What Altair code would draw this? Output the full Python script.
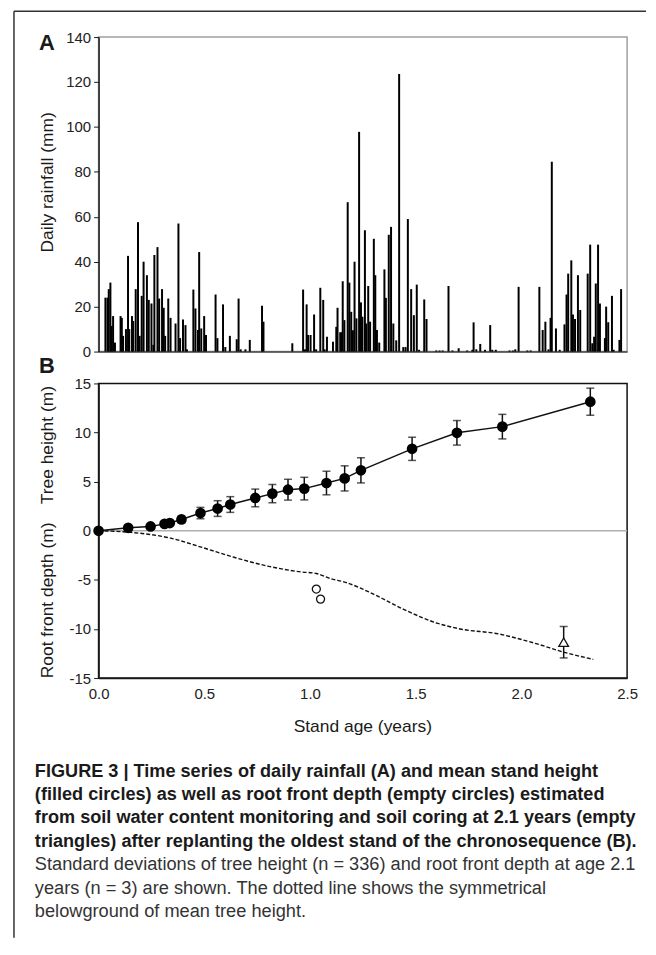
import altair as alt
import pandas as pd

# ---------------- data ----------------
rain_age = [0.009, 0.019, 0.025, 0.033, 0.039, 0.046, 0.055, 0.082, 0.088, 0.094,
            0.108, 0.118, 0.124, 0.137, 0.143, 0.155, 0.166, 0.174, 0.184, 0.193,
            0.209, 0.218, 0.231, 0.240, 0.245, 0.260, 0.268, 0.282, 0.290, 0.297,
            0.312, 0.323, 0.347, 0.361, 0.369, 0.383, 0.395, 0.402, 0.433, 0.443,
            0.455, 0.461, 0.471, 0.485, 0.494, 0.540, 0.549, 0.576, 0.587, 0.609,
            0.642, 0.651, 0.661, 0.684, 0.705, 0.764, 0.771, 0.910, 0.962, 0.971,
            0.979, 0.986, 0.998, 1.015, 1.025, 1.045, 1.059, 1.066, 1.077, 1.106,
            1.122, 1.128, 1.141, 1.147, 1.153, 1.161, 1.177, 1.185, 1.194, 1.202,
            1.210, 1.219, 1.232, 1.241, 1.248, 1.260, 1.266, 1.276, 1.285, 1.303,
            1.310, 1.318, 1.329, 1.354, 1.361, 1.375, 1.386, 1.397, 1.411, 1.425,
            1.445, 1.456, 1.467, 1.483, 1.496, 1.510, 1.521, 1.546, 1.557, 1.604,
            1.620, 1.635, 1.663, 1.682, 1.712, 1.753, 1.778, 1.784, 1.797, 1.816,
            1.839, 1.864, 1.874, 1.891, 1.957, 1.973, 1.985, 2.001, 2.043, 2.059,
            2.101, 2.117, 2.130, 2.145, 2.155, 2.161, 2.181, 2.199, 2.222, 2.232,
            2.240, 2.255, 2.263, 2.273, 2.287, 2.298, 2.334, 2.346, 2.356, 2.365,
            2.373, 2.384, 2.393, 2.417, 2.423, 2.433, 2.451, 2.459, 2.487, 2.495]
rain_mm = [24.0, 24.0, 27.8, 30.7, 11.4, 15.8, 4.0, 15.8, 15.0, 7.0,
           10.0, 42.6, 10.0, 15.8, 13.6, 27.8, 57.6, 7.0, 24.8, 40.0,
           34.0, 23.0, 21.4, 3.0, 43.0, 46.5, 23.6, 27.8, 19.5, 7.0,
           23.6, 15.0, 12.5, 57.0, 6.0, 14.3, 11.8, 1.0, 27.6, 19.2,
           9.6, 44.3, 10.3, 15.8, 7.4, 25.4, 6.0, 21.0, 2.0, 7.0,
           5.5, 23.6, 1.0, 1.0, 5.2, 20.4, 13.3, 3.7, 27.6, 1.0,
           21.0, 7.4, 7.4, 16.5, 1.0, 28.4, 23.0, 1.0, 6.6, 4.4,
           11.0, 19.5, 8.6, 8.6, 31.3, 14.0, 66.5, 30.7, 17.7, 9.5,
           40.0, 14.8, 97.8, 21.9, 15.5, 54.0, 12.5, 29.2, 13.3, 50.2,
           34.0, 9.6, 4.0, 36.6, 23.9, 52.0, 55.5, 12.5, 5.0, 123.5,
           2.0, 2.0, 59.0, 27.8, 16.2, 29.8, 0.8, 23.2, 14.5, 0.5,
           0.5, 0.5, 29.2, 0.5, 1.5, 0.5, 0.8, 13.0, 1.0, 3.4,
           0.8, 11.8, 0.8, 0.8, 0.5, 0.5, 1.0, 28.8, 0.5, 0.5,
           28.8, 9.6, 13.3, 1.0, 15.0, 84.5, 10.3, 0.8, 12.1, 25.4,
           34.7, 40.6, 16.5, 14.5, 34.0, 18.5, 34.7, 47.6, 3.7, 6.6,
           30.3, 47.6, 21.4, 6.0, 20.0, 13.0, 24.8, 0.8, 5.2, 27.8]

height_age = [0.0, 0.14, 0.246, 0.312, 0.337, 0.392, 0.482, 0.563, 0.623, 0.741,
              0.822, 0.896, 0.973, 1.078, 1.164, 1.241, 1.483, 1.695, 1.91, 2.326]
height_m = [0.0, 0.3, 0.44, 0.7, 0.78, 1.15, 1.8, 2.26, 2.67, 3.34,
            3.78, 4.18, 4.29, 4.86, 5.33, 6.15, 8.34, 9.97, 10.6, 13.14]
height_sd = [0.0, 0.0, 0.0, 0.0, 0.0, 0.35, 0.58, 0.8, 0.8, 0.9,
             0.93, 1.06, 1.15, 1.2, 1.28, 1.28, 1.18, 1.25, 1.25, 1.38]

root_age = [1.03, 1.05]
root_depth = [-5.94, -6.96]

core_age = [2.2]
core_depth = [-11.35]
core_sd = [1.6]

sym_age = [0.0, 0.17, 0.33, 0.49, 0.64, 0.8, 0.96, 1.03, 1.1, 1.16,
           1.3, 1.44, 1.6, 1.71, 1.89, 2.07, 2.2, 2.34]
sym_depth = [0.0, -0.2, -0.7, -1.7, -2.7, -3.6, -4.2, -4.35, -4.9, -5.2,
             -6.45, -7.97, -9.4, -10.0, -10.5, -11.5, -12.36, -13.1]

x_ticks = [0.0, 0.5, 1.0, 1.5, 2.0, 2.5]
rain_ticks = [0, 20, 40, 60, 80, 100, 120, 140]
depth_ticks = [-15, -10, -5, 0, 5, 10, 15]

caption_bold = [
    "FIGURE 3 | Time series of daily rainfall (A) and mean stand height",
    "(filled circles) as well as root front depth (empty circles) estimated",
    "from soil water content monitoring and soil coring at 2.1 years (empty",
    "triangles) after replanting the oldest stand of the chronosequence (B).",
]
caption_regular = [
    "Standard deviations of tree height (n = 336) and root front depth at age 2.1",
    "years (n = 3) are shown. The dotted line shows the symmetrical",
    "belowground of mean tree height.",
]

# ---------------- styling ----------------
FONT = "Liberation Sans, Arial, sans-serif"
CAP_FONT = "Liberation Sans Narrow, Arial Narrow, Liberation Sans, sans-serif"
INK = "#1a1a1a"

rain_df = pd.DataFrame({"age": rain_age, "rain": rain_mm})
h_df = pd.DataFrame({"age": height_age, "h": height_m, "sd": height_sd})
root_df = pd.DataFrame({"age": root_age, "d": root_depth})
core_df = pd.DataFrame({"age": core_age, "d": core_depth, "sd": core_sd})
sym_df = pd.DataFrame({"age": sym_age, "d": sym_depth})
one = pd.DataFrame({"k": [0]})


def label(text, x, y, size, weight="normal", angle=0, align="center", font=FONT, color=INK):
    return alt.Chart(pd.DataFrame({"t": [text]})).mark_text(
        fontSize=size, fontWeight=weight, angle=angle, align=align,
        baseline="middle", font=font, color=color
    ).encode(x=alt.value(x), y=alt.value(y), text="t:N")


# ---------------- panel A ----------------
xA = alt.X("age:Q", scale=alt.Scale(domain=[0, 2.5], nice=False),
           axis=alt.Axis(labels=False, ticks=False, title=None, grid=False,
                         domainColor="#444", domainWidth=1.5))
yA = alt.Y("rain:Q", scale=alt.Scale(domain=[0, 140], nice=False),
           axis=alt.Axis(values=rain_ticks, title=None, grid=False, tickSize=5,
                         tickColor=INK, domainColor=INK, domainWidth=1.5,
                         labelFontSize=15, labelColor="#222", labelFont=FONT,
                         labelPadding=3, labelFlush=False))

bars = alt.Chart(rain_df).mark_bar(size=2, color="#000").encode(x=xA, y=yA)

frame_v = alt.Chart(one).mark_rule(color="#333", strokeWidth=1.5).encode(
    x=alt.value(-85), y=alt.value(-26), y2=alt.value(905))
frame_h = alt.Chart(one).mark_rule(color="#333", strokeWidth=1.5).encode(
    x=alt.value(-85), x2=alt.value(550), y=alt.value(-26))

panelA = alt.layer(
    bars, frame_v, frame_h,
    label("A", -52, 6, 22, "bold"),
    label("Daily rainfall  (mm)", -51, 146, 17.5, angle=270),
).properties(width=531, height=316,
             view=alt.ViewBackground(stroke="#a0a0a0", strokeWidth=1.5))

# ---------------- panel B ----------------
xB = alt.X("age:Q", scale=alt.Scale(domain=[0, 2.5], nice=False),
           axis=alt.Axis(values=x_ticks, format=".1f", title=None, grid=False,
                         ticks=False, labelPadding=9, domainColor=INK,
                         domainWidth=1.5, labelFontSize=15, labelColor="#222",
                         labelFont=FONT, labelFlush=False))
yScaleB = alt.Scale(domain=[-15, 15], nice=False)
yB_axis = alt.Axis(values=depth_ticks, title=None, grid=False, tickSize=5,
                   tickColor=INK, domainColor=INK, domainWidth=1.5,
                   labelFontSize=15, labelColor="#222", labelFont=FONT,
                   labelPadding=3, labelFlush=False,
                   labelExpr="'' + datum.value")

zero = alt.Chart(one).mark_rule(color="#b0b0b0", strokeWidth=1.5).encode(
    y=alt.datum(0, scale=yScaleB, axis=yB_axis))

sym_line = alt.Chart(sym_df).mark_line(
    color="#111", strokeWidth=1.4, strokeDash=[4, 2], interpolate="monotone"
).encode(x=xB, y=alt.Y("d:Q", scale=yScaleB, axis=yB_axis))

h_line = alt.Chart(h_df).mark_line(color="#111", strokeWidth=1.5).encode(
    x=xB, y=alt.Y("h:Q", scale=yScaleB, axis=yB_axis))

h_err_base = alt.Chart(h_df).transform_filter("datum.sd > 0").transform_calculate(
    lo="datum.h - datum.sd", hi="datum.h + datum.sd")
h_err = h_err_base.mark_rule(color="#111", strokeWidth=1.5).encode(
    x=xB, y=alt.Y("lo:Q", scale=yScaleB, axis=yB_axis), y2="hi:Q")
h_cap_lo = h_err_base.mark_tick(color="#111", orient="horizontal", size=8,
                                thickness=1.5).encode(
    x=xB, y=alt.Y("lo:Q", scale=yScaleB, axis=yB_axis))
h_cap_hi = h_err_base.mark_tick(color="#111", orient="horizontal", size=8,
                                thickness=1.5).encode(
    x=xB, y=alt.Y("hi:Q", scale=yScaleB, axis=yB_axis))

h_pts = alt.Chart(h_df).mark_point(shape="circle", filled=True, color="#000",
                                   size=115, opacity=1).encode(
    x=xB, y=alt.Y("h:Q", scale=yScaleB, axis=yB_axis))

root_pts = alt.Chart(root_df).mark_point(shape="circle", filled=False,
                                         color="#111", size=65, strokeWidth=1.3,
                                         opacity=1).encode(
    x=xB, y=alt.Y("d:Q", scale=yScaleB, axis=yB_axis))

core_base = alt.Chart(core_df).transform_calculate(
    lo="datum.d - datum.sd", hi="datum.d + datum.sd")
core_err = core_base.mark_rule(color="#111", strokeWidth=1.5).encode(
    x=xB, y=alt.Y("lo:Q", scale=yScaleB, axis=yB_axis), y2="hi:Q")
core_cap_lo = core_base.mark_tick(color="#111", orient="horizontal", size=8,
                                  thickness=1.5).encode(
    x=xB, y=alt.Y("lo:Q", scale=yScaleB, axis=yB_axis))
core_cap_hi = core_base.mark_tick(color="#111", orient="horizontal", size=8,
                                  thickness=1.5).encode(
    x=xB, y=alt.Y("hi:Q", scale=yScaleB, axis=yB_axis))
core_pt = alt.Chart(core_df).mark_point(shape="triangle-up", filled=True,
                                        fill="white", stroke="#111",
                                        strokeWidth=1.3, size=95,
                                        opacity=1).encode(
    x=xB, y=alt.Y("d:Q", scale=yScaleB, axis=yB_axis))

cap_layers = []
cap_y = [390, 413.5, 437, 460.5, 484, 507.5, 531]
for i, line in enumerate(caption_bold):
    cap_layers.append(label(line, -64, cap_y[i], 18.2, "bold", align="left",
                            font=CAP_FONT, color="#1a1a1a"))
for j, line in enumerate(caption_regular):
    cap_layers.append(label(line, -64, cap_y[4 + j], 18.3, "normal", align="left",
                            font=CAP_FONT, color="#333"))

panelB = alt.layer(
    zero, sym_line, h_line, h_err, h_cap_lo, h_cap_hi, h_pts, root_pts,
    core_err, core_cap_lo, core_cap_hi, core_pt,
    label("B", -52, -17, 22, "bold"),
    label("Tree height (m)", -51, 62, 17.5, angle=270),
    label("Root front depth (m)", -51, 218, 17.5, angle=270),
    label("Stand age (years)", 265.5, 345, 17.5),
    *cap_layers,
).properties(width=531, height=296,
             view=alt.ViewBackground(stroke="#111", strokeWidth=1.5))

chart = alt.vconcat(panelA, panelB, spacing=32, bounds="flush").properties(
    padding={"left": 4, "top": -1, "right": 0, "bottom": 0},
    background="white",
)

chart.save("out.html", embed_options={"renderer": "svg", "actions": False})
